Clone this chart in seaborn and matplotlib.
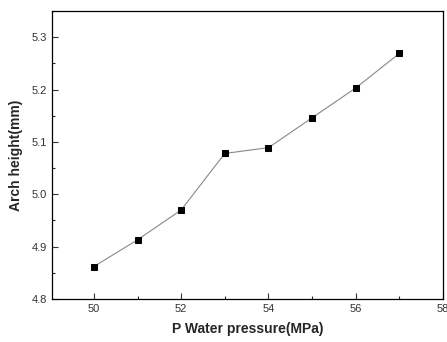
import matplotlib
matplotlib.use("Agg")
import matplotlib.pyplot as plt
import seaborn as sns
import pandas as pd
from matplotlib.ticker import MultipleLocator

pressure = [50, 51, 52, 53, 54, 55, 56, 57]
arch_height = [4.862, 4.913, 4.970, 5.078, 5.089, 5.146, 5.203, 5.269]

sns.set_style("ticks")
plt.rcParams['font.family'] = ['Liberation Sans', 'DejaVu Sans']

df = pd.DataFrame({"p": pressure, "h": arch_height})
fig = plt.figure(figsize=(4.47, 3.42), dpi=100)
ax = fig.add_axes([52/447, 1 - 299/342, (443-52)/447, (299-11)/342])
sns.lineplot(data=df, x="p", y="h", ax=ax, color="#888888", linewidth=0.8,
             marker="s", markersize=5, markerfacecolor="black",
             markeredgecolor="black")
ax.set_xlim(49.04, 58.0)
ax.set_ylim(4.8, 5.35)
ax.xaxis.set_major_locator(MultipleLocator(2))
ax.xaxis.set_minor_locator(MultipleLocator(1))
ax.yaxis.set_major_locator(MultipleLocator(0.1))
ax.yaxis.set_minor_locator(MultipleLocator(0.05))
ax.yaxis.set_major_formatter(matplotlib.ticker.FormatStrFormatter('%.1f'))
ax.tick_params(which='major', direction='in', length=4, width=0.8, labelsize=8, colors='#333333')
ax.tick_params(which='minor', direction='in', length=2, width=0.8)
ax.tick_params(which='both', top=False, right=False)
for s in ax.spines.values():
    s.set_linewidth(0.9)
    s.set_color('black')
ax.set_xlabel("P Water pressure(MPa)", fontsize=10, fontweight='bold', labelpad=6)
ax.set_ylabel("Arch height(mm)", fontsize=10, fontweight='bold', labelpad=6)
fig.savefig("out.png", dpi=100)
